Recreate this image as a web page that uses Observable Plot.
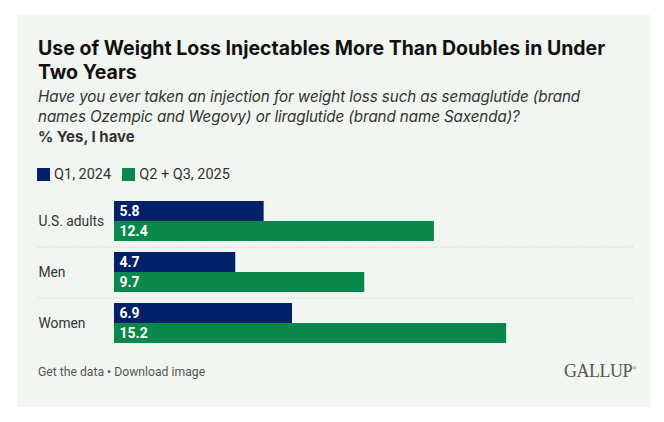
<!DOCTYPE html>
<html>
<head>
<meta charset="utf-8">
<script src="https://cdn.jsdelivr.net/npm/d3@7"></script>
<script src="https://cdn.jsdelivr.net/npm/@observablehq/plot@0.6"></script>
<style>
  body { margin: 0; background: #fff; font-family: Roboto, "Noto Sans", sans-serif; }
  #panel { position: absolute; left: 17px; top: 15px; width: 634px; height: 392px; background: #f1f7f0; }
  .abs { position: absolute; white-space: nowrap; }
  #title { left: 21px; top: 21px; font-family: Inter, Roboto, sans-serif; font-size: 19.5px; font-weight: 700; line-height: 24px; color: #111; letter-spacing: 0; }
  #sub { left: 21px; top: 72px; font-family: Inter, Roboto, sans-serif; font-size: 15.2px; font-style: italic; line-height: 19.5px; color: #333; letter-spacing: -0.1px; }
  #yes { left: 21px; top: 112px; font-family: Inter, Roboto, sans-serif; font-size: 15px; font-weight: 700; color: #333; }
  #legend { left: 20px; top: 151px; font-size: 14.5px; color: #333; display: flex; align-items: center; }
  .sw { display: inline-block; width: 13px; height: 13px; margin-right: 4px; }
  .item { display: flex; align-items: center; margin-right: 11px; }
  #chart { left: 21px; top: 181px; }
  #foot { left: 21px; top: 350px; font-size: 12.2px; color: #555; }
  #logo { left: 547px; top: 346px; font-family: "Liberation Serif", "DejaVu Serif", serif; font-size: 18px; color: #555; letter-spacing: -0.5px; }
</style>
</head>
<body>
<div id="panel">
  <div id="title" class="abs">Use of Weight Loss Injectables More Than Doubles in Under<br>Two Years</div>
  <div id="sub" class="abs">Have you ever taken an injection for weight loss such as semaglutide (brand<br>names Ozempic and Wegovy) or liraglutide (brand name Saxenda)?</div>
  <div id="yes" class="abs">% Yes, I have</div>
  <div id="legend" class="abs"></div>
  <div id="chart" class="abs"></div>
  <div id="foot" class="abs">Get the data • Download image</div>
  <div id="logo" class="abs">GALLUP<sup style="font-size:6px">®</sup></div>
</div>
<script>
const categories = ["U.S. adults", "Men", "Women"];
const series = ["Q1, 2024", "Q2 + Q3, 2025"];
const q1_2024 = [5.8, 4.7, 6.9];
const q2q3_2025 = [12.4, 9.7, 15.2];
const colors = ["#022169", "#0a884b"];

const data = [];
categories.forEach((c, i) => {
  data.push({cat: c, series: series[0], value: q1_2024[i]});
  data.push({cat: c, series: series[1], value: q2q3_2025[i]});
});

const legend = document.getElementById("legend");
series.forEach((s, i) => {
  const it = document.createElement("span");
  it.className = "item";
  it.innerHTML = `<span class="sw" style="background:${colors[i]}"></span>${s}`;
  legend.appendChild(it);
});

const gap = 11, bar = 20;
const plot = Plot.plot({
  width: 595,
  height: 3 * 2 * bar + 2 * gap + 10,
  marginLeft: 76,
  marginRight: 0,
  marginTop: 5,
  marginBottom: 5,
  style: {background: "transparent", overflow: "visible"},
  x: {domain: [0, 20], range: [76, 76 + 516], axis: null},
  y: {domain: series, padding: 0, axis: null},
  fy: {domain: categories, paddingInner: gap / (2 * bar + gap), paddingOuter: 0, axis: null},
  color: {domain: series, range: colors},
  marks: [
    Plot.barX(data, {x: "value", y: "series", fy: "cat", fill: "series"}),
    Plot.text(data, {x: 0, y: "series", fy: "cat", text: d => d.value.toFixed(1), textAnchor: "start", dx: 5, fill: "white", fontWeight: 700, fontSize: 14, fontFamily: "Roboto"}),
    Plot.text(categories.map(c => ({cat: c})), {fy: "cat", text: "cat", frameAnchor: "left", textAnchor: "start", dx: -76, fontSize: 13.8, fill: "#333", fontFamily: "Roboto"}),
    Plot.ruleY(categories.slice(1).map(c => ({cat: c})), {fy: "cat", y: null, dy: -(bar + gap / 2), insetLeft: -76, insetRight: 0, stroke: "#d0d6d0", strokeDasharray: "1.5,1.5", strokeWidth: 1})
  ]
});
document.getElementById("chart").appendChild(plot);
</script>
</body>
</html>
